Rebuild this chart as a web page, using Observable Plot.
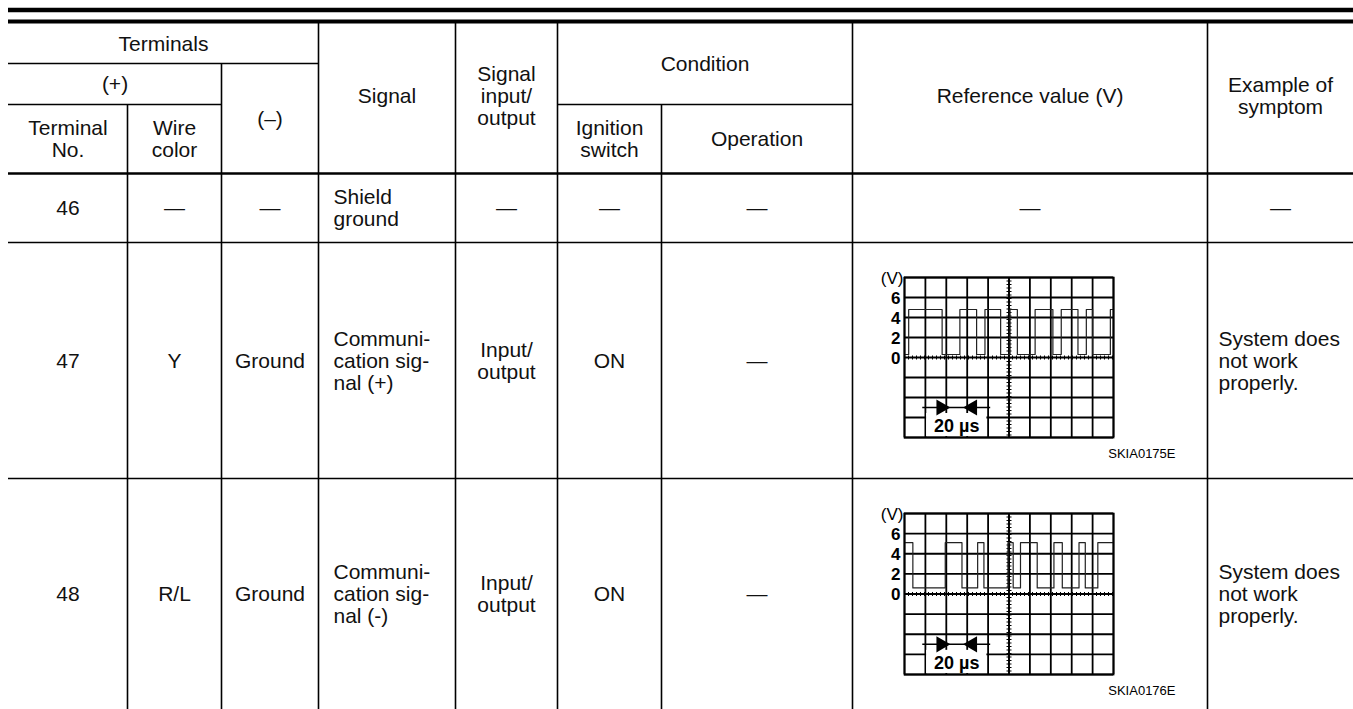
<!DOCTYPE html>
<html>
<head>
<meta charset="utf-8">
<script src="https://cdn.jsdelivr.net/npm/d3@7"></script>
<script src="https://cdn.jsdelivr.net/npm/@observablehq/plot@0.6"></script>
<style>
  html, body { margin: 0; padding: 0; background: #fff; }
  #page { position: relative; width: 1353px; height: 709px; overflow: hidden; background: #fff; }
  #page svg { position: absolute; }
</style>
</head>
<body>
<div id="page"></div>
<script>
// ---------- data ----------
const terminalNos   = ["46", "47", "48"];
const wireColors    = ["—", "Y", "R/L"];
const negTerminals  = ["—", "Ground", "Ground"];
const signals       = ["Shield\nground", "Communi-\ncation sig-\nnal (+)", "Communi-\ncation sig-\nnal (-)"];
const signalIO      = ["—", "Input/\noutput", "Input/\noutput"];
const ignitionSw    = ["—", "ON", "ON"];
const operations    = ["—", "—", "—"];
const referenceVals = ["—", null, null];
const symptoms      = ["—", "System does\nnot work\nproperly.", "System does\nnot work\nproperly."];
const figureCodes   = ["SKIA0175E", "SKIA0176E"];

const headerTexts = ["Terminals", "(+)", "(–)", "Terminal\nNo.", "Wire\ncolor", "Signal",
  "Signal\ninput/\noutput", "Condition", "Ignition\nswitch", "Operation", "Reference value (V)", "Example of\nsymptom"];

// waveform samples (time in µs, volts)
const wave47Time = [0, 4, 36, 53, 69, 77, 92, 101, 108, 125, 142, 150, 166, 174, 180, 197, 200];
const wave47Volt = [0.3, 4.8, 0.3, 4.8, 0.3, 4.8, 0.3, 4.8, 0.3, 4.8, 0.3, 4.8, 0.3, 4.8, 0.3, 4.8, 4.8];
const wave48Time = [0, 8, 39, 55, 70, 76, 99, 104, 111, 127, 143, 151, 167, 173, 185, 200];
const wave48Volt = [5.1, 0.6, 5.1, 0.6, 5.1, 0.6, 5.1, 0.6, 5.1, 0.6, 5.1, 0.6, 5.1, 0.6, 5.1, 5.1];
const voltTicks = [0, 2, 4, 6];
const timeDomain = [0, 200];
const voltDomain = [-8, 8];
const scaleBar = {from: 40, to: 60, label: "20 µs"};

// ---------- layout ----------
const W = 1353, H = 709;
const FONT = "'Liberation Sans', Arial, Helvetica, sans-serif";
const FS = 21;
const colEdges = [8, 127, 221, 318, 455, 557, 661, 852, 1207, 1353];
const headRows = [23, 63, 104, 173];
const bodyRows = [173, 242, 478, 709];
const headerSpans = [
  [0,3,0,1],[0,2,1,2],[2,3,1,3],[0,1,2,3],[1,2,2,3],[3,4,0,3],
  [4,5,0,3],[5,7,0,2],[5,6,2,3],[6,7,2,3],[7,8,0,3],[8,9,0,3]
];

const bars = [
  {y: 9.5, x1: colEdges[0], x2: W, w: 4.5},
  {y: 21, x1: colEdges[0], x2: W, w: 4}
];
const hLines = [], vLines = [];
headerSpans.forEach(([c0, c1, r0, r1]) => {
  hLines.push({y: headRows[r1], x1: colEdges[c0], x2: colEdges[c1], w: r1 === 3 ? 2.4 : 1.6});
  if (c1 < colEdges.length - 1) vLines.push({x: colEdges[c1], y1: headRows[r0], y2: headRows[r1], w: 1.6});
});
for (let i = 1; i < bodyRows.length - 1; i++) hLines.push({y: bodyRows[i], x1: colEdges[0], x2: W, w: 1.6});
for (let c = 1; c < colEdges.length - 1; c++) vLines.push({x: colEdges[c], y1: headRows[3], y2: H, w: 1.6});

const centered = [], lefted = [];
headerSpans.forEach(([c0, c1, r0, r1], i) => {
  let y = (headRows[r0] + headRows[r1]) / 2 - (r0 === 0 && r1 === 3 ? 3 : 0);
  centered.push({x: (colEdges[c0] + colEdges[c1]) / 2, y, text: headerTexts[i]});
});
const cols = [terminalNos, wireColors, negTerminals, signals, signalIO, ignitionSw, operations, referenceVals, symptoms];
terminalNos.forEach((_, r) => {
  const y = (bodyRows[r] + bodyRows[r + 1]) / 2;
  cols.forEach((arr, c) => {
    const t = arr[r];
    if (t == null) return;
    if ((c === 3) || (c === 8 && t !== "—")) {
      lefted.push({x: colEdges[c] + (c === 3 ? 15 : 11), y, text: t});
    } else {
      centered.push({x: (colEdges[c] + colEdges[c + 1]) / 2, y, text: t});
    }
  });
});

const page = document.getElementById("page");

const table = Plot.plot({
  width: W, height: H, margin: 0,
  x: {domain: [0, W], range: [0, W], axis: null},
  y: {domain: [0, H], range: [0, H], axis: null},
  style: {fontFamily: FONT, background: "white", color: "black"},
  marks: [
    Plot.ruleY(bars, {y: "y", x1: "x1", x2: "x2", strokeWidth: "w", stroke: "black"}),
    Plot.ruleY(hLines, {y: "y", x1: "x1", x2: "x2", strokeWidth: "w", stroke: "black"}),
    Plot.ruleX(vLines, {x: "x", y1: "y1", y2: "y2", strokeWidth: "w", stroke: "black"}),
    Plot.text(centered, {x: "x", y: "y", text: "text", fontSize: FS, lineHeight: 1.05, textAnchor: "middle", fill: "#111"}),
    Plot.text(lefted, {x: "x", y: "y", text: "text", fontSize: FS, lineHeight: 1.05, textAnchor: "start", fill: "#111"})
  ]
});
table.style.left = "0px"; table.style.top = "0px";
page.appendChild(table);

function wavePlot(times, volts, code, top, height, mBottom) {
  const data = times.map((t, i) => ({t, v: volts[i]}));
  const svg = Plot.plot({
    width: colEdges[8] - colEdges[7], height,
    marginLeft: 52, marginRight: 94, marginTop: 35, marginBottom: mBottom,
    x: {domain: timeDomain, axis: null},
    y: {domain: voltDomain, axis: null},
    style: {fontFamily: FONT, background: "transparent", color: "black", overflow: "visible"},
    marks: [
      Plot.gridX({ticks: 10, stroke: "black", strokeOpacity: 1, strokeWidth: 1.8}),
      Plot.gridY({ticks: 8, stroke: "black", strokeOpacity: 1, strokeWidth: 1.8}),
      Plot.ruleX([100], {stroke: "black", strokeWidth: 1.5}),
      Plot.ruleX([100], {stroke: "black", strokeWidth: 5, strokeDasharray: "1,2.5"}),
      Plot.ruleY([0], {stroke: "black", strokeWidth: 1.2}),
      Plot.ruleY([0], {stroke: "black", strokeWidth: 4, strokeDasharray: "1,3"}),
      Plot.rect([scaleBar], {x1: d => d.from - 20, x2: d => d.to + 20, y1: voltDomain[0], y2: -5.6, fill: "white", insetLeft: 1.2, insetRight: 1.2, insetBottom: 1}),
      Plot.text([scaleBar], {x: d => (d.from + d.to) / 2, y: -6.9, text: "label", fontSize: 18, fontWeight: "bold"}),
      Plot.link([scaleBar], {x1: d => d.from - 23, x2: d => d.to + 22, y1: -5, y2: -5, stroke: "black", strokeWidth: 1.5}),
      Plot.dot([scaleBar], {x: d => d.from - 5, y: -5, symbol: "triangle", r: 6, rotate: 90, fill: "black", stroke: "none"}),
      Plot.dot([scaleBar], {x: d => d.to + 5, y: -5, symbol: "triangle", r: 6, rotate: -90, fill: "black", stroke: "none"}),
      Plot.line(data, {x: "t", y: "v", curve: "step-after", stroke: "#222", strokeWidth: 1.2}),
      Plot.frame({stroke: "black", strokeWidth: 1.8}),
      Plot.text(voltTicks, {y: d => d, frameAnchor: "left", dx: -4, dy: 1, textAnchor: "end", fontSize: 17, fontWeight: "bold"}),
      Plot.text(["(V)"], {frameAnchor: "top-left", dx: -1, dy: -6, textAnchor: "end", fontSize: 17}),
      Plot.text([code], {frameAnchor: "bottom-right", dx: 62, dy: 20, textAnchor: "end", fontSize: 13})
    ]
  });
  svg.style.left = colEdges[7] + "px";
  svg.style.top = top + "px";
  return svg;
}

page.appendChild(wavePlot(wave47Time, wave47Volt, figureCodes[0], bodyRows[1], bodyRows[2] - bodyRows[1], 41));
page.appendChild(wavePlot(wave48Time, wave48Volt, figureCodes[1], bodyRows[2], bodyRows[3] - bodyRows[2], 35));
</script>
</body>
</html>
